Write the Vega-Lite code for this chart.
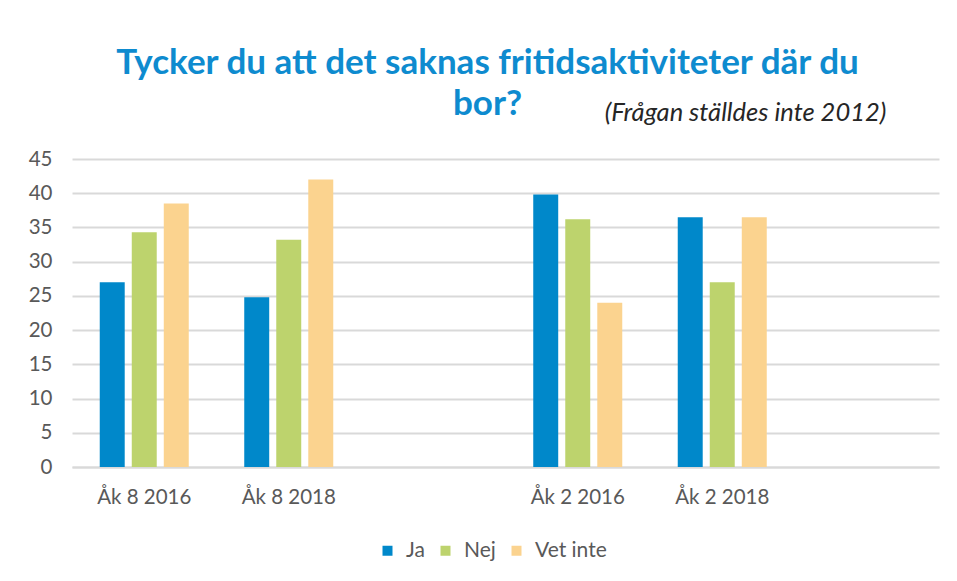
{
  "$schema": "https://vega.github.io/schema/vega-lite/v6.json",
  "autosize": {"type": "none"},
  "width": 867,
  "height": 308,
  "padding": {"left": 72, "top": 159, "right": 18, "bottom": 114},
  "background": "white",
  "title": {
    "text": ["Tycker du att det saknas fritidsaktiviteter där du", "bor?"],
    "font": "Lato",
    "fontWeight": "bold",
    "fontSize": 35,
    "color": "#0E8BCF",
    "lineHeight": 41,
    "anchor": "middle",
    "frame": "group",
    "dx": -18,
    "offset": -22
  },
  "data": {
    "values": [
      {"grupp": "Åk 8 2016", "svar": "Ja", "andel": 27.0},
      {"grupp": "Åk 8 2016", "svar": "Nej", "andel": 34.3},
      {"grupp": "Åk 8 2016", "svar": "Vet inte", "andel": 38.5},
      {"grupp": "Åk 8 2018", "svar": "Ja", "andel": 24.8},
      {"grupp": "Åk 8 2018", "svar": "Nej", "andel": 33.2},
      {"grupp": "Åk 8 2018", "svar": "Vet inte", "andel": 42.0},
      {"grupp": "Åk 2 2016", "svar": "Ja", "andel": 39.8},
      {"grupp": "Åk 2 2016", "svar": "Nej", "andel": 36.2},
      {"grupp": "Åk 2 2016", "svar": "Vet inte", "andel": 24.0},
      {"grupp": "Åk 2 2018", "svar": "Ja", "andel": 36.5},
      {"grupp": "Åk 2 2018", "svar": "Nej", "andel": 27.0},
      {"grupp": "Åk 2 2018", "svar": "Vet inte", "andel": 36.5}
    ]
  },
  "mark": {"type": "bar"},
  "encoding": {
    "x": {
      "field": "grupp",
      "type": "nominal",
      "scale": {
        "domain": ["Åk 8 2016", "Åk 8 2018", " ", "Åk 2 2016", "Åk 2 2018", "  "],
        "paddingInner": 0.384,
        "paddingOuter": 0.192
      },
      "axis": {
        "title": "(Frågan ställdes inte 2012)",
        "titleFont": "Lato",
        "titleFontStyle": "italic",
        "titleFontWeight": "normal",
        "titleFontSize": 25.5,
        "titleColor": "#262626",
        "titleX": 673,
        "titleY": -355,
        "titleAlign": "center",
        "titleBaseline": "middle",
        "labelAngle": 0,
        "labelFont": "Lato",
        "labelFontSize": 20.5,
        "labelColor": "#595959",
        "labelPadding": 20,
        "ticks": false,
        "domainColor": "#D9D9D9",
        "domainWidth": 2
      }
    },
    "xOffset": {
      "field": "svar",
      "type": "nominal",
      "scale": {"paddingInner": 0.22, "paddingOuter": 0}
    },
    "y": {
      "field": "andel",
      "type": "quantitative",
      "scale": {"domain": [0, 45]},
      "axis": {
        "title": null,
        "values": [0, 5, 10, 15, 20, 25, 30, 35, 40, 45],
        "labelFont": "Lato",
        "labelFontSize": 20.5,
        "labelColor": "#595959",
        "labelPadding": 20,
        "ticks": false,
        "domain": false,
        "gridColor": "#D9D9D9",
        "gridWidth": 2
      }
    },
    "color": {
      "field": "svar",
      "type": "nominal",
      "scale": {
        "domain": ["Ja", "Nej", "Vet inte"],
        "range": ["#0088CA", "#BDD36D", "#FBD38F"]
      },
      "legend": {
        "title": null,
        "orient": "none",
        "direction": "horizontal",
        "legendX": 305,
        "legendY": 381,
        "symbolType": "square",
        "symbolSize": 100,
        "symbolStrokeWidth": 0,
        "labelFont": "Lato",
        "labelFontSize": 21,
        "labelColor": "#595959",
        "labelOffset": 8,
        "columnPadding": 10
      }
    }
  },
  "config": {
    "view": {"stroke": null}
  }
}
